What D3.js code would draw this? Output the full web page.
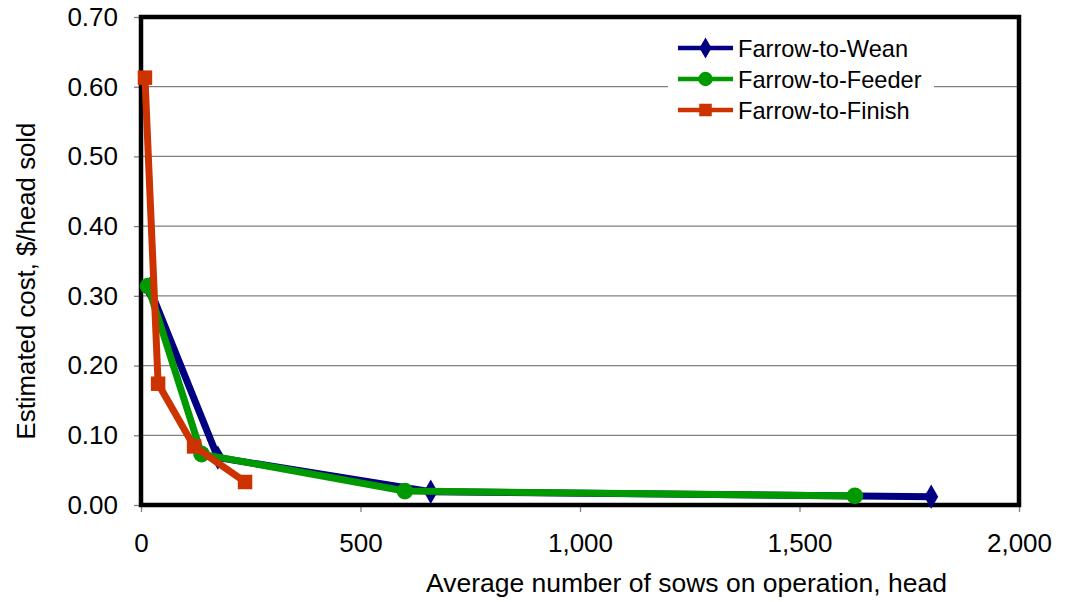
<!DOCTYPE html>
<html><head><meta charset="utf-8">
<script src="https://cdn.jsdelivr.net/npm/d3@7"></script>
<style>body{margin:0;background:#fff}text{font-family:"Liberation Sans",Arial,sans-serif;fill:#000}</style>
</head><body><svg id="c" width="1074" height="602"></svg>
<script>
const seriesNames = ["Farrow-to-Wean","Farrow-to-Feeder","Farrow-to-Finish"];
const weanX = [20, 175, 660, 1800];
const weanY = [0.310, 0.068, 0.019, 0.012];
const feederX = [16, 138, 601, 1626];
const feederY = [0.314, 0.073, 0.020, 0.013];
const finishX = [9, 39, 121, 237];
const finishY = [0.613, 0.174, 0.084, 0.033];
const xTicks = [0, 500, 1000, 1500, 2000];
const yTicks = [0, 0.1, 0.2, 0.3, 0.4, 0.5, 0.6, 0.7];

const svg = d3.select("#c");
const L = 141, R = 1019, T = 17, B = 505;
const x = d3.scaleLinear().domain([0, 2000]).range([L, R]);
const y = d3.scaleLinear().domain([0, 0.7]).range([B, T]);

// gridlines
svg.append("g").selectAll("line").data(yTicks.slice(1)).join("line")
  .attr("x1", L).attr("x2", R).attr("y1", d => y(d)).attr("y2", d => y(d))
  .attr("stroke", "#808080").attr("stroke-width", 1.3);

// axes
const yAxis = d3.axisLeft(y).tickValues(yTicks).tickFormat(d3.format(".2f")).tickSize(7).tickPadding(16);
const gy = svg.append("g").attr("transform", `translate(${L},0)`).call(yAxis);
const xAxis = d3.axisBottom(x).tickValues(xTicks).tickFormat(d3.format(",")).tickSize(7).tickPadding(22);
const gx = svg.append("g").attr("transform", `translate(0,${B})`).call(xAxis);
[gy, gx].forEach(g => {
  g.select(".domain").remove();
  g.selectAll(".tick line").attr("stroke", "#808080").attr("stroke-width", 1.3);
  g.selectAll(".tick text").attr("font-size", 26).attr("font-family", "Liberation Sans, Arial, sans-serif").attr("fill", "#000");
});

// frame
svg.append("rect").attr("x", L).attr("y", T).attr("width", R - L).attr("height", B - T)
  .attr("fill", "none").attr("stroke", "#000").attr("stroke-width", 4.5);

const series = [
  {name: seriesNames[0], xs: weanX, ys: weanY, color: "#000080", sym: d3.symbolDiamond, size: 170},
  {name: seriesNames[1], xs: feederX, ys: feederY, color: "#009900", sym: d3.symbolCircle, size: 220},
  {name: seriesNames[2], xs: finishX, ys: finishY, color: "#CC3300", sym: d3.symbolSquare, size: 210}
];
const line = d3.line().x(d => x(d[0])).y(d => y(d[1]));
series.forEach(s => {
  const pts = s.xs.map((v, i) => [v, s.ys[i]]);
  const g = svg.append("g");
  g.append("path").attr("d", line(pts)).attr("fill", "none").attr("stroke", s.color)
    .attr("stroke-width", 7).attr("stroke-linejoin", "round");
  g.selectAll("path.m").data(pts).join("path").attr("class", "m")
    .attr("d", d3.symbol().type(s.sym).size(s.size))
    .attr("transform", d => `translate(${x(d[0])},${y(d[1])})`)
    .attr("fill", s.color);
});

// legend
const lg = svg.append("g");
lg.append("rect").attr("x", 668).attr("y", 30).attr("width", 266).attr("height", 98).attr("fill", "#fff");
series.forEach((s, i) => {
  const yy = 48 + i * 31;
  lg.append("line").attr("x1", 678).attr("x2", 733).attr("y1", yy).attr("y2", yy)
    .attr("stroke", s.color).attr("stroke-width", 4.5);
  lg.append("path").attr("d", d3.symbol().type(s.sym).size(s.size * 0.75)())
    .attr("transform", `translate(705.5,${yy})`).attr("fill", s.color);
  lg.append("text").attr("x", 738).attr("y", yy + 8.5).attr("font-size", 23.6).text(s.name);
});

// axis titles
svg.append("text").attr("x", 686.5).attr("y", 592).attr("text-anchor", "middle").attr("font-size", 26.5)
  .text("Average number of sows on operation, head");
svg.append("text").attr("transform", "translate(35,281) rotate(-90)").attr("text-anchor", "middle").attr("font-size", 25.8)
  .text("Estimated cost, $/head sold");
</script></body></html>
